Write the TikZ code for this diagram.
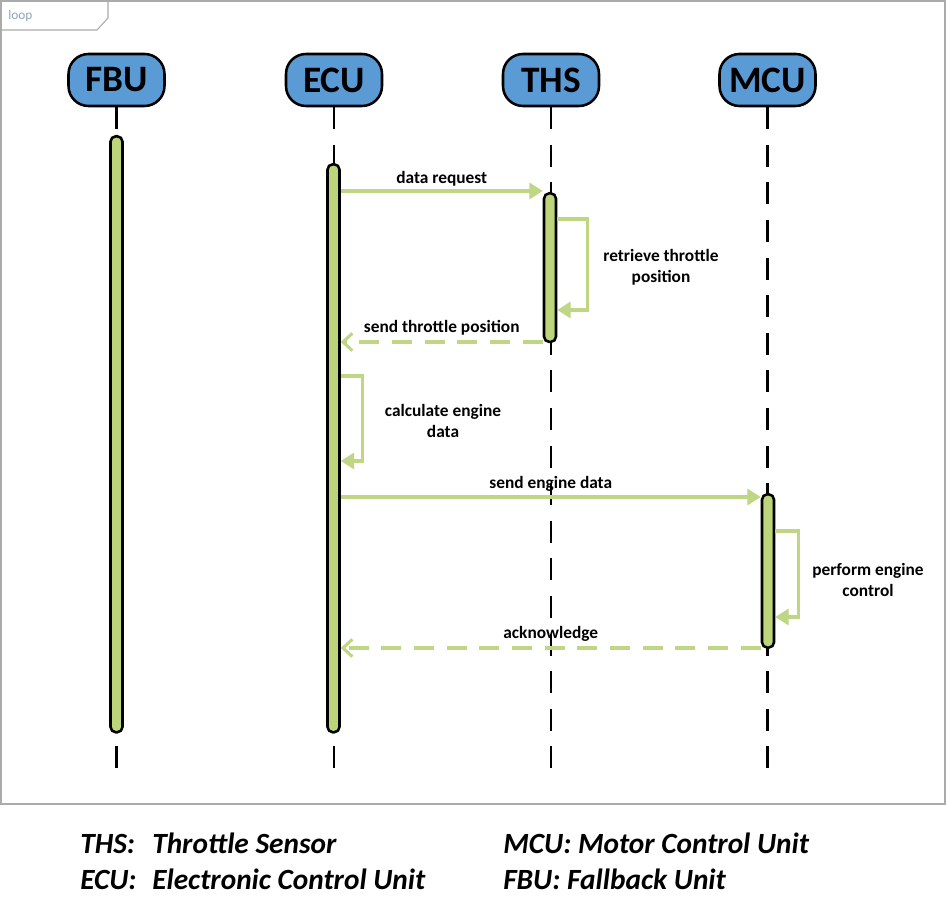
\documentclass[tikz,border=0pt]{standalone}
\usepackage{fontspec}
\setmainfont{Carlito}
\usetikzlibrary{arrows.meta,positioning}
\definecolor{hdrblue}{HTML}{5B9BD5}
\definecolor{actgreen}{HTML}{BCD47A}
\definecolor{msggreen}{HTML}{BFD684}
\definecolor{framegray}{HTML}{ABABAB}
\definecolor{loopgray}{HTML}{8FA3BF}

\begin{document}
\begin{tikzpicture}[x=0.75pt,y=-0.75pt]
    \tikzset{
        hdr/.style={draw=black, line width=1.9pt, fill=hdrblue, rounded corners=15pt, minimum width=72pt, minimum height=39pt, inner sep=0pt, font=\bfseries\fontsize{28}{30}\selectfont},
        bar/.style={draw=black, line width=1.9pt, fill=actgreen, rounded corners=4pt, minimum width=9pt, inner sep=0pt, anchor=north},
        life/.style={line width=2pt, dash pattern=on 16.5pt off 11.7pt},
        msg/.style={msggreen, line width=2.3pt, -{Triangle[length=10pt,width=12pt]}},
        ret/.style={msggreen, line width=2.3pt, dash pattern=on 15pt off 9.5pt, -{Straight Barb[length=7pt,width=13pt]}},
        lbl/.style={text=black, font=\bfseries\fontsize{13}{15.75}\selectfont, align=center, inner sep=0pt},
        legend/.style={font=\bfseries\itshape\fontsize{22}{26}\selectfont, anchor=base west, inner sep=0pt},
    }
    \fill[white] (0,0) rectangle (946,912);
    \useasboundingbox (0,0) rectangle (946,912);

    \draw[framegray, line width=0.8pt] (1,1) rectangle (945,804);
    \draw[framegray, line width=0.8pt] (1,30) -- (97,30) -- (108,18) -- (108,1);
    \node[loopgray, font=\fontsize{10}{12}\selectfont, anchor=base west, inner sep=0pt] (looplbl) at (8,20) {loop};

    \node[hdr] (fbu) at (116.5,80) {FBU};
    \node[hdr] (ecu) at (334,80) {ECU};
    \node[hdr] (ths) at (551,80) {THS};
    \node[hdr] (mcu) at (767.5,80) {MCU};

    \coordinate (lifeend) at (0,768);
    \draw[life] (fbu.south) -- (fbu.south |- lifeend);
    \draw[life] (ecu.south) -- (ecu.south |- lifeend);
    \draw[life] (ths.south) -- (ths.south |- lifeend);
    \draw[life] (mcu.south) -- (mcu.south |- lifeend);

    \node[bar, minimum height=447pt] (fbubar) at (116.5,135) {};
    \node[bar, minimum height=426pt] (ecubar) at (333.5,163) {};
    \node[bar, minimum height=111.5pt] (thsbar) at (550,192) {};
    \node[bar, minimum height=115pt] (mcubar) at (768,493) {};

    \coordinate (m1) at (0,191);
    \coordinate (s1a) at (0,219);
    \coordinate (s1b) at (0,310);
    \coordinate (r1) at (0,342);
    \coordinate (s2a) at (0,376);
    \coordinate (s2b) at (0,461);
    \coordinate (m2) at (0,497);
    \coordinate (s3a) at (0,531);
    \coordinate (s3b) at (0,617);
    \coordinate (r2) at (0,648);

    \draw[msg] (ecubar.east |- m1) -- node[lbl, above=2.5pt] (lbldata) {data request} (thsbar.west |- m1);
    \draw[msg] (thsbar.east |- s1a) -- ++(30,0) |- (thsbar.east |- s1b);
    \node[lbl] (lblretr) at (661,267.5) {retrieve throttle\\position};
    \draw[ret] (thsbar.west |- r1) -- node[lbl, above=4pt] (lblsend) {send throttle position} (ecubar.east |- r1);
    \draw[msg] (ecubar.east |- s2a) -- ++(22,0) |- (ecubar.east |- s2b);
    \node[lbl] (lblcalc) at (443,420.5) {calculate engine\\data};
    \draw[msg] (ecubar.east |- m2) -- node[lbl, above=3pt] (lbleng) {send engine data} (mcubar.west |- m2);
    \draw[msg] (mcubar.east |- s3a) -- ++(23,0) |- (mcubar.east |- s3b);
    \node[lbl] (lblperf) at (868,579.5) {perform engine\\control};
    \draw[ret] (mcubar.west |- r2) -- node[lbl, above=4pt] (lblack) {acknowledge} (ecubar.east |- r2);

    \node[legend] (legths) at (80,853) {\makebox[54pt][l]{THS:}Throttle Sensor};
    \node[legend] (legecu) at (80,889) {\makebox[54pt][l]{ECU:}Electronic Control Unit};
    \node[legend] (legmcu) at (503,853) {MCU: Motor Control Unit};
    \node[legend] (legfbu) at (503,889) {FBU: Fallback Unit};
\end{tikzpicture}
\end{document}
